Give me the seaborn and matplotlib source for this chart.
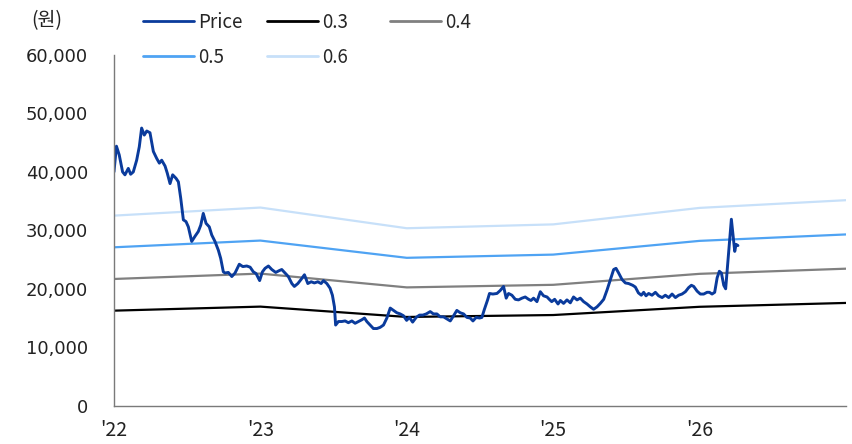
import matplotlib
matplotlib.use("Agg")
import matplotlib.pyplot as plt
from matplotlib.lines import Line2D
from matplotlib.ticker import FuncFormatter
import numpy as np
import pandas as pd
import seaborn as sns

# Weekly closing price (원), time as decimal year
price_t = [
    2022.000, 2022.017, 2022.036, 2022.059, 2022.075, 2022.098, 2022.114, 2022.132,
    2022.155, 2022.173, 2022.189, 2022.207, 2022.224, 2022.246, 2022.269, 2022.292,
    2022.310, 2022.326, 2022.349, 2022.364, 2022.383, 2022.401, 2022.424, 2022.440,
    2022.456, 2022.474, 2022.492, 2022.508, 2022.531, 2022.554, 2022.576, 2022.593,
    2022.610, 2022.629, 2022.651, 2022.668, 2022.690, 2022.713, 2022.729, 2022.747,
    2022.759, 2022.781, 2022.805, 2022.827, 2022.856, 2022.880, 2022.907, 2022.930,
    2022.952, 2022.971, 2022.995, 2023.014, 2023.032, 2023.055, 2023.078, 2023.105,
    2023.128, 2023.146, 2023.169, 2023.191, 2023.215, 2023.232, 2023.256, 2023.278,
    2023.301, 2023.324, 2023.347, 2023.369, 2023.392, 2023.415, 2023.431, 2023.454,
    2023.476, 2023.492, 2023.506, 2023.514, 2023.533, 2023.556, 2023.579, 2023.601,
    2023.625, 2023.647, 2023.670, 2023.693, 2023.711, 2023.727, 2023.750, 2023.772,
    2023.796, 2023.818, 2023.841, 2023.864, 2023.887, 2023.909, 2023.932, 2023.955,
    2023.977, 2023.999, 2024.018, 2024.040, 2024.064, 2024.087, 2024.110, 2024.133,
    2024.160, 2024.182, 2024.206, 2024.228, 2024.251, 2024.278, 2024.297, 2024.315,
    2024.342, 2024.365, 2024.388, 2024.411, 2024.433, 2024.452, 2024.474, 2024.497,
    2024.513, 2024.529, 2024.552, 2024.565, 2024.588, 2024.616, 2024.638, 2024.661,
    2024.679, 2024.695, 2024.718, 2024.741, 2024.763, 2024.787, 2024.809, 2024.832,
    2024.848, 2024.866, 2024.889, 2024.912, 2024.934, 2024.958, 2024.973, 2024.990,
    2025.010, 2025.033, 2025.049, 2025.071, 2025.094, 2025.117, 2025.139, 2025.163,
    2025.185, 2025.208, 2025.231, 2025.254, 2025.276, 2025.299, 2025.322, 2025.345,
    2025.368, 2025.390, 2025.413, 2025.429, 2025.447, 2025.470, 2025.493, 2025.515,
    2025.543, 2025.561, 2025.582, 2025.602, 2025.618, 2025.634, 2025.652, 2025.675,
    2025.698, 2025.720, 2025.744, 2025.766, 2025.789, 2025.812, 2025.835, 2025.857,
    2025.880, 2025.903, 2025.925, 2025.944, 2025.960, 2025.983, 2026.005, 2026.028,
    2026.051, 2026.067, 2026.085, 2026.103, 2026.120, 2026.135, 2026.149, 2026.165,
    2026.178, 2026.217, 2026.240, 2026.249, 2026.262,
]
price = [
    40000, 44400, 42900, 40000, 39500, 40600, 39600, 40000,
    42000, 44300, 47500, 46300, 47000, 46700, 43500, 42300,
    41500, 42000, 41000, 39800, 38000, 39500, 38900, 38300,
    35500, 31800, 31500, 30600, 28100, 29000, 29800, 30900,
    32900, 31200, 30600, 29200, 28100, 26600, 25200, 22900,
    22700, 22800, 22100, 22700, 24200, 23800, 23900, 23700,
    22900, 22600, 21400, 22900, 23500, 23900, 23300, 22800,
    23100, 23300, 22700, 22100, 20900, 20400, 20900, 21600,
    22400, 20900, 21200, 21000, 21200, 20900, 21400, 20900,
    20100, 18900, 16900, 13800, 14400, 14400, 14500, 14200,
    14500, 14100, 14400, 14700, 15000, 14400, 13800, 13200,
    13200, 13400, 13800, 15000, 16700, 16300, 15900, 15700,
    15400, 14600, 15100, 14300, 15100, 15500, 15500, 15700,
    16100, 15700, 15700, 15200, 15200, 14800, 14500, 15200,
    16300, 15900, 15700, 15100, 15000, 14500, 15100, 15000,
    15100, 16400, 18100, 19200, 19100, 19200, 19700, 20400,
    18400, 19200, 18900, 18200, 18100, 18400, 18600, 18200,
    18000, 18400, 17800, 19500, 18800, 18600, 18200, 17800,
    18200, 17400, 18000, 17500, 18100, 17600, 18600, 18100,
    18400, 17800, 17400, 16900, 16500, 16900, 17500, 18200,
    19800, 21500, 23300, 23500, 22700, 21600, 21000, 20900,
    20600, 20300, 19300, 18900, 19400, 18800, 19200, 18900,
    19400, 18800, 18500, 18900, 18500, 19100, 18500, 18900,
    19100, 19500, 20200, 20600, 20400, 19600, 19100, 19100,
    19400, 19400, 19100, 19400, 21900, 23000, 22700, 20600,
    20000, 31900, 26400, 27600, 27400,
]

# Book value per share (원) at year starts, and PBR band multiples
bps_year = [2022, 2023, 2024, 2025, 2026, 2027]
bps = [54200, 56500, 50600, 51700, 56400, 58600]
multiples = [0.3, 0.4, 0.5, 0.6]
band_colors = {"0.3": "#000000", "0.4": "#808080", "0.5": "#4FA3F3", "0.6": "#C7E0F9"}
price_color = "#0A3B9C"

year_ticks = [2022, 2023, 2024, 2025, 2026]
year_labels = ["'22", "'23", "'24", "'25", "'26"]

sns.set_style("white")
plt.rcParams["font.family"] = ["Noto Sans CJK KR", "DejaVu Sans"]

price_df = pd.DataFrame({"t": price_t, "value": price})
band_df = pd.concat(
    [pd.DataFrame({"t": bps_year, "value": np.array(bps) * m, "band": str(m)}) for m in multiples],
    ignore_index=True,
)

fig = plt.figure(figsize=(8.53, 4.44), dpi=100)
ax = fig.add_axes([0.1336, 0.0863, 0.8582, 0.7898])

sns.lineplot(data=band_df, x="t", y="value", hue="band", palette=band_colors,
             linewidth=1.6, ax=ax, legend=False)
sns.lineplot(data=price_df, x="t", y="value", color=price_color,
             linewidth=2.1, ax=ax, legend=False)

ax.set_xlim(2022, 2027)
ax.set_ylim(0, 60000)
ax.set_xticks(year_ticks)
ax.set_xticklabels(year_labels)
ax.set_yticks(range(0, 60001, 10000))
ax.yaxis.set_major_formatter(FuncFormatter(lambda v, p: f"{v:,.0f}"))
ax.set_xlabel("")
ax.set_ylabel("")

for side in ("top", "right"):
    ax.spines[side].set_visible(False)
for side in ("left", "bottom"):
    ax.spines[side].set_color("#7a7a7a")
    ax.spines[side].set_linewidth(1.0)

ax.tick_params(axis="y", direction="out", length=4.5, width=1, color="#7a7a7a",
               pad=14, labelsize=13, labelcolor="#222222")
ax.tick_params(axis="x", direction="out", length=4.5, width=1, color="#7a7a7a",
               pad=6, labelsize=14, labelcolor="#222222")
for tick in ax.yaxis.get_major_ticks():
    tick.label1.set_fontfamily(["DejaVu Sans"])
ax.grid(False)

fig.text(47 / 853, 1 - 21 / 444, "(원)", ha="center", va="center",
         fontsize=14, color="#222222")

def handle(c, lw=2.0):
    return Line2D([], [], color=c, linewidth=lw)

legend_kw = dict(loc="upper left", frameon=False, fontsize=13.5, handlelength=2.7,
                 handletextpad=0.25, labelspacing=0.75, borderpad=0, borderaxespad=0)

# First two legend columns (column-major: Price, 0.5 | 0.3, 0.6)
handles = [handle(price_color), handle(band_colors["0.5"]),
           handle(band_colors["0.3"]), handle(band_colors["0.6"])]
labels = ["Price", "0.5", "0.3", "0.6"]
fig.legend(handles, labels, bbox_to_anchor=(143 / 853, 1 - 12 / 444),
           ncol=2, columnspacing=1.3, **legend_kw)
# Third column
fig.legend([handle(band_colors["0.4"])], ["0.4"],
           bbox_to_anchor=(390 / 853, 1 - 12 / 444), ncol=1, **legend_kw)

fig.savefig("out.png", dpi=100, facecolor="white")
